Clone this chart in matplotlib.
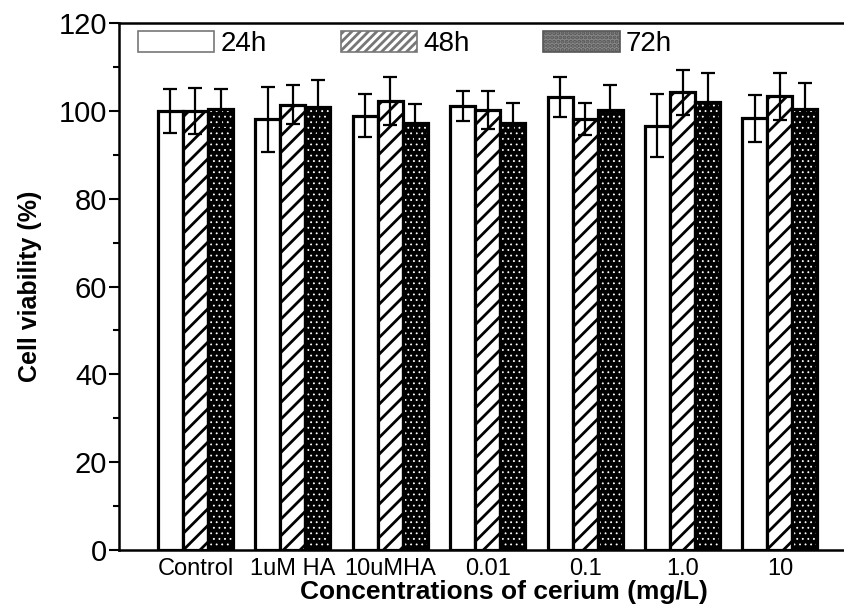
import numpy as np
import matplotlib
matplotlib.use("Agg")
import matplotlib.pyplot as plt
from matplotlib.patches import Patch

groups = ["Control", "1uM HA", "10uMHA", "0.01", "0.1", "1.0", "10"]
series = ["24h", "48h", "72h"]
v24 = [100, 98.1, 98.9, 101.1, 103.1, 96.6, 98.3]
v48 = [100, 101.4, 102.3, 100.2, 98.1, 104.2, 103.3]
v72 = [100.4, 100.8, 97.3, 97.3, 100.2, 102.1, 100.4]
e24 = [5.0, 7.4, 4.9, 3.5, 4.6, 7.2, 5.3]
e48 = [5.3, 4.5, 5.5, 4.4, 3.6, 5.1, 5.3]
e72 = [4.6, 6.3, 4.3, 4.4, 5.7, 6.5, 5.9]

plt.rcParams['font.family'] = ['Liberation Sans', 'DejaVu Sans']
plt.rcParams['hatch.linewidth'] = 2.0

fig = plt.figure(figsize=(8.45, 6.06), dpi=100)
ax = fig.add_axes([119 / 845, 1 - 550 / 606, 726 / 845, 527 / 606])

x = np.arange(len(groups))
w = 0.257

# 24h: open white bars
ax.bar(x - w, v24, w, facecolor="white", edgecolor="black", linewidth=2.3, zorder=2)
# 48h: diagonal hatch
ax.bar(x, v48, w, facecolor="white", edgecolor="black", linewidth=2.3, hatch="//", zorder=2)
# 72h: black with small white dots, then outline
with plt.rc_context({'hatch.linewidth': 0.6}):
    ax.bar(x + w, v72, w, facecolor="black", edgecolor="white", linewidth=0, hatch="...", zorder=2)
ax.bar(x + w, v72, w, facecolor="none", edgecolor="black", linewidth=2.3, zorder=3)

for off, v, e in [(-w, v24, e24), (0, v48, e48), (w, v72, e72)]:
    ax.errorbar(x + off, v, yerr=e, fmt="none", ecolor="black", elinewidth=1.6,
                capsize=4.7, capthick=1.6, zorder=4)

ax.set_xlim((119 - 195.5) / 97.4, (845 - 195.5) / 97.4)
ax.set_ylim(0, 120)
ax.set_yticks(np.arange(0, 121, 20))
ax.set_yticks(np.arange(10, 120, 20), minor=True)
ax.set_xticks(x)
ax.set_xticklabels(groups, fontsize=17)
ax.tick_params(axis="x", length=0, pad=6)
ax.tick_params(axis="y", which="major", direction="out", length=7.5, width=1.5, labelsize=21, pad=1)
ax.tick_params(axis="y", which="minor", direction="out", length=4.5, width=1.5)
for s in ["left", "bottom", "top"]:
    ax.spines[s].set_linewidth(1.8)
ax.spines["right"].set_visible(False)

ax.set_xlabel("Concentrations of cerium (mg/L)", fontsize=19, fontweight="bold")
ax.xaxis.set_label_coords((504 - 119) / 726, -30 / 527)
ax.set_ylabel("Cell viability (%)", fontsize=18, fontweight="bold", labelpad=12)

handles = [
    Patch(facecolor="white", edgecolor="#777777", linewidth=1.2),
    Patch(facecolor="white", edgecolor="#777777", linewidth=1.2, hatch="////"),
    Patch(facecolor="#8a8a8a", edgecolor="#555555", linewidth=1.2, hatch="...."),
]
ax.legend(handles, series, loc="upper left", bbox_to_anchor=(19 / 726, 1 - 8 / 527),
          ncol=3, frameon=False, fontsize=20, handlelength=2.75, handleheight=0.8,
          handletextpad=0.22, columnspacing=2.66, borderpad=0, borderaxespad=0)

fig.savefig("out.png", dpi=100)
